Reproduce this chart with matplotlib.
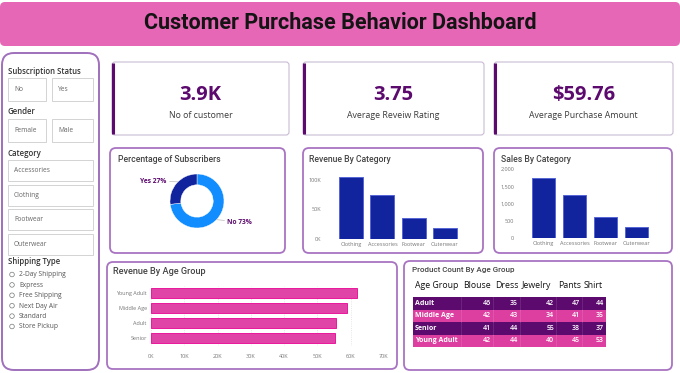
import matplotlib
matplotlib.use("Agg")
import matplotlib.pyplot as plt
from matplotlib.patches import FancyBboxPatch, Rectangle, Circle
from matplotlib.ticker import FuncFormatter, StrMethodFormatter

plt.rcParams['font.family'] = ['Open Sans', 'DejaVu Sans']

# Data
kpi_values = ['3.9K', '3.75', '$59.76']
kpi_labels = ['No of customer', 'Average Reveiw Rating', 'Average Purchase Amount']

sub_status = ['No', 'Yes']
genders = ['Female', 'Male']
filter_categories = ['Accessories', 'Clothing', 'Footwear', 'Outerwear']
shipping_types = ['2-Day Shipping', 'Express', 'Free Shipping', 'Next Day Air', 'Standard', 'Store Pickup']

subscription = ['No', 'Yes']
subs_counts = [2847, 1053]

categories = ['Clothing', 'Accessories', 'Footwear', 'Outerwear']
revenue = [104264, 74200, 36093, 18524]
sales = [1737, 1240, 599, 324]

age_groups = ['Young Adult', 'Middle Age', 'Adult', 'Senior']
age_revenue = [61900, 59000, 55700, 55400]

table_groups = ['Adult', 'Middle Age', 'Senior', 'Young Adult']
products = ['Blouse', 'Dress', 'Jewelry', 'Pants', 'Shirt']
counts = [[46, 35, 42, 47, 44],
          [42, 43, 34, 41, 35],
          [41, 44, 55, 38, 37],
          [42, 44, 40, 45, 53]]

PURPLE = '#5C0A6E'
PINK = '#DD3FA0'
NAVY = '#12239E'
TITLE_FONT = ['Roboto', 'DejaVu Sans']

W, H = 680, 373
fig = plt.figure(figsize=(W / 100, H / 100), dpi=100)
bg = fig.add_axes([0, 0, 1, 1])
bg.set_xlim(0, W)
bg.set_ylim(H, 0)
bg.axis('off')


def px_axes(x0, y0, x1, y1):
    ax = fig.add_axes([x0 / W, 1 - y1 / H, (x1 - x0) / W, (y1 - y0) / H])
    ax.patch.set_alpha(0)
    return ax


def card(x0, y0, x1, y1, ec, lw, r, fc='white'):
    bg.add_patch(FancyBboxPatch((x0 + r, y0 + r), x1 - x0 - 2 * r, y1 - y0 - 2 * r,
                                boxstyle=f"round,pad={r}", fc=fc, ec=ec, lw=lw))


# Banner
card(0, 2, W, 46, 'none', 0, 5, fc='#E567B6')
bg.text(W / 2, 23, 'Customer Purchase Behavior Dashboard', ha='center', va='center',
        fontsize=15.5, fontweight='bold', color='#141414', family=TITLE_FONT)

# Sidebar
card(2, 53, 99, 370, '#A070BC', 1.4, 12)


def side_head(y, s):
    bg.text(8, y, s, ha='left', va='center', fontsize=5.6, color='#333333', fontweight='semibold')


def box(x0, y0, x1, y1, s):
    bg.add_patch(Rectangle((x0, y0), x1 - x0, y1 - y0, fc='white', ec='#CCCCCC', lw=0.6))
    bg.text(x0 + 6, (y0 + y1) / 2, s, ha='left', va='center', fontsize=4.8, color='#666666')


side_head(71, 'Subscription Status')
box(8, 78, 46, 101, sub_status[0])
box(52, 78, 93, 101, sub_status[1])
side_head(112, 'Gender')
box(8, 119, 46, 142, genders[0])
box(52, 119, 93, 142, genders[1])
side_head(153, 'Category')
for i, c in enumerate(filter_categories):
    y0 = 160 + 24.6 * i
    box(8, y0, 93, y0 + 21, c)
side_head(262, 'Shipping Type')
for i, s in enumerate(shipping_types):
    y = 275 + 10.4 * i
    bg.add_patch(Circle((12, y - 0.5), 2.3, fc='white', ec='#777777', lw=0.5))
    bg.text(19, y, s, ha='left', va='center', fontsize=4.8, color='#555555')

# KPI cards
kpi_x = [(112, 289), (303, 484), (494, 673)]
for (x0, x1), v, lab in zip(kpi_x, kpi_values, kpi_labels):
    card(x0, 62, x1, 135, '#C9BBD3', 0.8, 3)
    bg.plot([x0 + 0.8, x0 + 0.8], [63, 134], color=PURPLE, lw=2.2, solid_capstyle='butt')
    cx = (x0 + x1) / 2
    bg.text(cx, 95, v, ha='center', va='center', fontsize=14.5, fontweight='bold', color=PURPLE)
    bg.text(cx, 116, lab, ha='center', va='center', fontsize=6.3, color='#3A3A3A')

# Chart cards
CARD_EC = '#A874C2'
card(110, 148, 285, 253, CARD_EC, 1.3, 6)
card(303, 148, 483, 253, CARD_EC, 1.3, 6)
card(494, 148, 672, 253, CARD_EC, 1.3, 6)
card(107, 262, 397, 369, CARD_EC, 1.3, 6)
card(404, 261, 672, 370, CARD_EC, 1.3, 6)


def card_title(x, y, s, fs=6.2):
    bg.text(x, y, s, ha='left', va='center', fontsize=fs, color='#444444',
            fontweight='medium', family=TITLE_FONT)


card_title(118, 159, 'Percentage of Subscribers')
card_title(309, 159, 'Revenue By Category')
card_title(501, 159, 'Sales By Category')
card_title(113, 271, 'Revenue By Age Group', fs=6.6)
card_title(412, 270, 'Product Count By Age Group', fs=5.8)

# Donut
ax = px_axes(170, 174, 224, 228)
total = sum(subs_counts)
wedges, _ = ax.pie(subs_counts, colors=['#118DFF', NAVY], startangle=90, counterclock=False,
                   radius=1, wedgeprops=dict(width=0.4, edgecolor='white', linewidth=0.3))
ax.set_xlim(-1, 1)
ax.set_ylim(-1, 1)
label_pos = {'Yes': ((-0.7, 0.71), (-1.12, 0.74), 'right'),
             'No': ((0.72, -0.69), (1.12, -0.78), 'left')}
for name, cnt in zip(subscription, subs_counts):
    xy, xyt, ha = label_pos[name]
    ax.annotate(f'{name} {cnt / total * 100:.0f}%', xy=xy, xytext=xyt, ha=ha, va='center',
                fontsize=4.8, fontweight='bold', color=PURPLE, annotation_clip=False,
                arrowprops=dict(arrowstyle='-', color='#BBBBBB', lw=0.5, shrinkA=0, shrinkB=0))


def style_cat_axes(ax):
    for s in ax.spines.values():
        s.set_visible(False)
    ax.tick_params(length=0, labelsize=4, labelcolor='#777777')


# Revenue by category
ax = px_axes(335.5, 174, 460.5, 239)
ax.bar(categories, revenue, width=0.77, color=NAVY, edgecolor='#5565D5', lw=0.7)
ax.set_xlim(-0.5, 3.5)
ax.set_ylim(0, 110000)
ax.set_yticks([0, 50000, 100000])
ax.yaxis.set_major_formatter(FuncFormatter(lambda v, p: f'{v / 1000:.0f}K'))
style_cat_axes(ax)
ax.tick_params(axis='y', pad=10)
ax.tick_params(axis='x', pad=2.5)

# Sales by category
ax = px_axes(528, 169, 652, 238)
ax.bar(categories, sales, width=0.77, color=NAVY, edgecolor='#5565D5', lw=0.7)
ax.set_xlim(-0.5, 3.5)
ax.set_ylim(0, 2000)
ax.set_yticks([0, 500, 1000, 1500, 2000])
ax.yaxis.set_major_formatter(StrMethodFormatter('{x:,.0f}'))
style_cat_axes(ax)
ax.tick_params(axis='y', pad=10)
ax.tick_params(axis='x', pad=2.5)

# Revenue by age group
ax = px_axes(151, 285.5, 384, 345.5)
ax.barh(age_groups, age_revenue, height=0.72, color='#E044A7', edgecolor='#E8189C', lw=0.7, zorder=2)
ax.set_ylim(3.5, -0.5)
ax.set_xlim(0, 70000)
ax.set_xticks(range(0, 70001, 10000))
ax.xaxis.set_major_formatter(FuncFormatter(lambda v, p: f'{v / 1000:.0f}K'))
ax.grid(axis='x', color='#DDDDDD', linestyle=':', lw=0.6, zorder=0)
style_cat_axes(ax)
ax.tick_params(axis='x', pad=6)
ax.tick_params(axis='y', pad=3)

# Product count table
col_edges = [413, 461, 493, 520, 556, 582, 606]
row_top, row_h = 297, 12.5
bg.text(415, 285, 'Age Group', ha='left', va='center', fontsize=6.3, color='#111111')
for j, p in enumerate(products):
    bg.text(col_edges[j + 1] + 2, 285, p, ha='left', va='center', fontsize=6.3, color='#111111')
for i, (g, row) in enumerate(zip(table_groups, counts)):
    y0 = row_top + i * row_h
    fc = PURPLE if i % 2 == 0 else PINK
    bg.add_patch(Rectangle((col_edges[0], y0), col_edges[-1] - col_edges[0], row_h, fc=fc, ec='none'))
    for xe in col_edges[1:-1]:
        bg.plot([xe, xe], [y0, y0 + row_h], color='white', alpha=0.15, lw=0.5)
    yc = y0 + row_h / 2
    bg.text(col_edges[0] + 2, yc, g, ha='left', va='center', fontsize=5, fontweight='bold', color='white')
    for j, v in enumerate(row):
        bg.text(col_edges[j + 2] - 2, yc, str(v), ha='right', va='center', fontsize=5,
                fontweight='semibold', color='white')

fig.savefig('out.png', dpi=100)
